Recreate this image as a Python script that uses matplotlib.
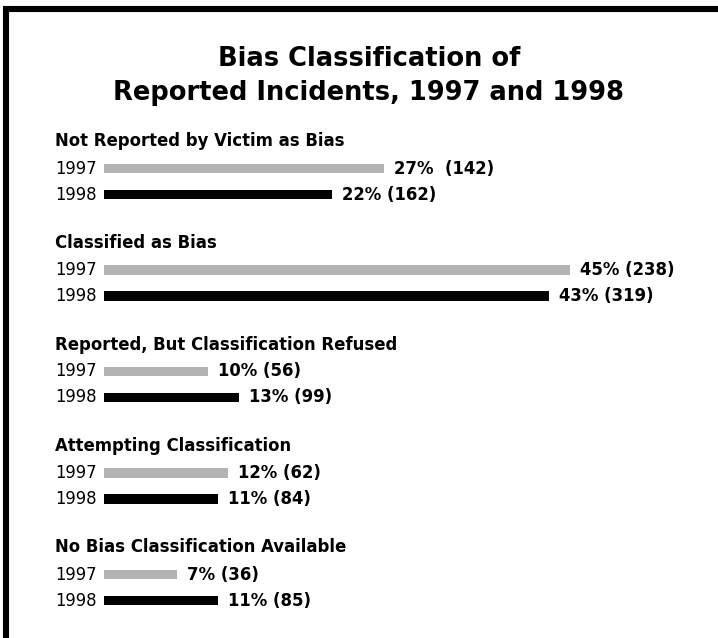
import matplotlib
matplotlib.use("Agg")
import matplotlib.pyplot as plt
from matplotlib.patches import Rectangle

plt.rcParams['font.family'] = ['DejaVu Sans']

categories = [
    "Not Reported by Victim as Bias",
    "Classified as Bias",
    "Reported, But Classification Refused",
    "Attempting Classification",
    "No Bias Classification Available",
]
years = ["1997", "1998"]
pct_1997 = [27, 45, 10, 12, 7]
pct_1998 = [22, 43, 13, 11, 11]
count_1997 = [142, 238, 56, 62, 36]
count_1998 = [162, 319, 99, 84, 85]
colors = ["#b3b3b3", "#000000"]

W, H = 718, 638
fig = plt.figure(figsize=(W / 100, H / 100), dpi=100)
ax = fig.add_axes([0, 0, 1, 1])

# pixel layout: 0% sits at x=104, ~10.36 px per percent
x0 = 104
scale = 10.36
ax.set_xlim(-x0 / scale, (W - x0) / scale)
ax.set_ylim(H, 0)
ax.axis("off")


def px(p):
    return (p - x0) / scale


# frame (right and bottom edges run off the picture)
fig.add_artist(Rectangle((6.3 / W, -0.1), 1.2, 1.1 - 9 / H, transform=fig.transFigure,
                         fill=False, lw=4.4, edgecolor="black", clip_on=False))

ax.text(px(369), 66.5, "Bias Classification of", ha="center", va="baseline",
        fontsize=18.5, fontweight="bold")
ax.text(px(369), 100, "Reported Incidents, 1997 and 1998", ha="center", va="baseline",
        fontsize=18.5, fontweight="bold")

group_top = 140
pitch = 101.5
for i, cat in enumerate(categories):
    gy = group_top + pitch * i
    ax.text(px(55), gy + 6.5, cat, ha="left", va="baseline", fontsize=11.9, fontweight="bold")
    rows = [(pct_1997[i], count_1997[i]), (pct_1998[i], count_1998[i])]
    for j, (p, c) in enumerate(rows):
        by = gy + 28.5 + 26 * j
        ax.barh(by, p, height=9.5, left=0, color=colors[j], linewidth=0)
        ax.text(px(55), by + 5, years[j], ha="left", va="baseline", fontsize=11.9)
        sep = "  " if (i == 0 and j == 0) else " "
        ax.text(p + 10 / scale, by + 5, f"{p}%{sep}({c})", ha="left", va="baseline",
                fontsize=11.9, fontweight="bold")

fig.savefig("out.png", dpi=100)
